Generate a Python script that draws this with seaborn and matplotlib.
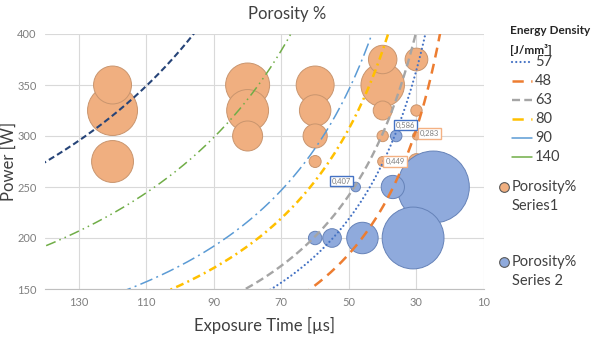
import numpy as np
import pandas as pd
import matplotlib
matplotlib.use("Agg")
import matplotlib.pyplot as plt
import seaborn as sns
from matplotlib.lines import Line2D

# ---------------- data ----------------
# Series 1 (orange bubbles): exposure time [us], power [W], porosity [%]
s1_time = [120, 120, 120, 80, 80, 80, 60, 60, 60, 60, 40, 40, 40, 40, 40, 30, 30, 30, 30]
s1_power = [350, 325, 275, 350, 325, 300, 350, 325, 300, 275, 375, 350, 325, 300, 275, 375, 325, 300, 275]
s1_poro = [6.4, 11.1, 7.8, 8.6, 7.8, 4.0, 6.4, 4.4, 2.6, 0.64, 3.6, 8.4, 1.6, 0.57, 0.449, 2.3, 0.57, 0.283, 1.1]

# Series 2 (blue bubbles)
s2_time = [60, 55, 46, 31, 48, 37, 25, 36]
s2_power = [200, 200, 200, 200, 250, 250, 250, 300]
s2_poro = [0.8, 1.54, 4.4, 17.0, 0.407, 2.4, 23.0, 0.586]

# labelled bubbles (series, time, power, value)
lbl_series = [2, 1, 1, 2]
lbl_time = [36, 30, 40, 48]
lbl_power = [300, 300, 275, 250]
lbl_value = [0.586, 0.283, 0.449, 0.407]

# iso energy density curves [J/mm3]
energy_density = [57, 48, 63, 80, 90, 140, 200]
energy_in_legend = [True, True, True, True, True, True, False]
curve_const = 192.0  # P * t = E * const

x_ticks = [130, 110, 90, 70, 50, 30, 10]
y_ticks = [150, 200, 250, 300, 350, 400]

# ---------------- style ----------------
W, H = 598, 338
FONT = ["Lato", "DejaVu Sans"]
sns.set_theme(style="white")
plt.rcParams["font.family"] = FONT

curve_styles = {
    57: dict(color="#4472C4", lw=1.6, ls=(0, (0.01, 1.9)), cap="round"),
    48: dict(color="#ED7D31", lw=1.8, ls=(0, (4.0, 2.6)), cap="butt"),
    63: dict(color="#A5A5A5", lw=1.7, ls=(0, (3.4, 1.8)), cap="butt"),
    80: dict(color="#FFC000", lw=1.8, ls=(0, (3.2, 1.7, 0.8, 1.7)), cap="butt"),
    90: dict(color="#5B9BD5", lw=1.1, ls=(0, (8.5, 2.8, 1.3, 2.8)), cap="butt"),
    140: dict(color="#70AD47", lw=1.1, ls=(0, (6.7, 2.7, 1.0, 2.7, 1.0, 2.7)), cap="butt"),
    200: dict(color="#264478", lw=1.5, ls=(0, (3.0, 1.6)), cap="butt"),
}
legend_handle_ls = {
    57: (0, (0.01, 1.9)), 48: (0, (4.5, 3.0, 0.6, 2.0)), 63: (0, (3.4, 1.8)),
    80: (0, (4.5, 3.0, 0.6, 2.0)), 90: "-", 140: "-", 200: "-",
}
orange_fill, orange_edge = "#F0AF80", "#C9956E"
blue_fill, blue_edge = "#8FAADC", "#6582B8"
BUBBLE_AREA = 116.6  # points^2 per porosity unit

fig = plt.figure(figsize=(W / 100, H / 100), dpi=100)
ax = fig.add_axes([45 / W, 49 / H, 439 / W, 255 / H])

# bubbles (largest at back, series 2 above series 1)
df1 = pd.DataFrame({"t": s1_time, "P": s1_power, "v": s1_poro}).sort_values("v", ascending=False)
df2 = pd.DataFrame({"t": s2_time, "P": s2_power, "v": s2_poro}).sort_values("v", ascending=False)
sns.scatterplot(data=df1, x="t", y="P", s=df1["v"].to_numpy() * BUBBLE_AREA, color=orange_fill,
                edgecolor=orange_edge, linewidth=0.7, ax=ax, zorder=2, legend=False)
sns.scatterplot(data=df2, x="t", y="P", s=df2["v"].to_numpy() * BUBBLE_AREA, color=blue_fill,
                edgecolor=blue_edge, linewidth=0.7, ax=ax, zorder=3, legend=False)

# iso curves
t_grid = np.linspace(5, 145, 600)
for E in energy_density:
    st = curve_styles[E]
    dfc = pd.DataFrame({"t": t_grid, "P": E * curve_const / t_grid})
    sns.lineplot(data=dfc, x="t", y="P", ax=ax, color=st["color"], linewidth=st["lw"],
                 linestyle=st["ls"], dash_capstyle=st["cap"], zorder=4, sort=False,
                 estimator=None, legend=False)

# data labels
lbl_offsets = {0: (9, -11), 1: (13.3, -2.3), 2: (12.3, 0), 3: (-14, -6)}
for i, (sr, t, p, v) in enumerate(zip(lbl_series, lbl_time, lbl_power, lbl_value)):
    dx, dy = lbl_offsets[i]
    ec = "#4472C4" if sr == 2 else "#F4B183"
    ax.annotate(f"{v:.3f}".replace(".", ","), (t, p), xytext=(dx * 0.72, -dy * 0.72),
                textcoords="offset points", ha="center", va="center", fontsize=5.5,
                color="#7F7F7F", zorder=6,
                bbox=dict(boxstyle="square,pad=0.25", fc="white", ec=ec, lw=1.0))

ax.set_xlim(140, 10)
ax.set_ylim(150, 400)
ax.set_xticks(x_ticks)
ax.set_yticks(y_ticks)
ax.grid(True, color="#D9D9D9", linewidth=0.8)
ax.set_axisbelow(True)
for sp in ["left", "top", "right"]:
    ax.spines[sp].set_visible(False)
ax.spines["bottom"].set_color("#BFBFBF")
ax.spines["bottom"].set_linewidth(0.8)
ax.tick_params(axis="both", length=0, labelsize=8, labelcolor="#7F7F7F", pad=6)
ax.set_xlabel("Exposure Time [µs]", fontsize=12, color="#404040", labelpad=6)
ax.set_ylabel("Power [W]", fontsize=12, color="#404040", va="center")
ax.yaxis.set_label_coords(-36 / 439, 0.5)
ax.set_facecolor("white")

fig.text(287 / W, 1 - 14 / H, "Porosity %", ha="center", va="center", fontsize=12, color="#404040")

# ---------------- manual legend ----------------
def fx(px):
    return px / W

def fy(py):
    return 1 - py / H

fig.text(fx(510), fy(31), "Energy Density", fontsize=8.5, fontweight="bold", color="#262626",
         ha="left", va="center")
fig.text(fx(510), fy(50), "[J/mm³]", fontsize=8.5, fontweight="bold", color="#262626",
         ha="left", va="center")
row = 0
for E, show in zip(energy_density, energy_in_legend):
    if not show:
        continue
    yy = 62 + 19 * row
    st = curve_styles[E]
    fig.add_artist(Line2D([fx(512), fx(532)], [fy(yy), fy(yy)], transform=fig.transFigure,
                          color=st["color"], linewidth=st["lw"], linestyle=legend_handle_ls[E],
                          dash_capstyle=st["cap"]))
    fig.text(fx(535), fy(yy), str(E), fontsize=10.5, color="#404040", ha="left", va="center")
    row += 1

for yy, fc, ec, name in [(187, orange_fill, orange_edge, "Series1"), (262, blue_fill, blue_edge, "Series 2")]:
    fig.add_artist(Line2D([fx(504)], [fy(yy)], transform=fig.transFigure, marker="o",
                          markersize=7, markerfacecolor=fc, markeredgecolor="#595959",
                          markeredgewidth=0.8, linestyle="none"))
    fig.text(fx(512), fy(yy), "Porosity%", fontsize=10.5, color="#404040", ha="left", va="center")
    fig.text(fx(512), fy(yy + 19), name, fontsize=10.5, color="#404040", ha="left", va="center")

fig.savefig("out.png", dpi=100, facecolor="white")
